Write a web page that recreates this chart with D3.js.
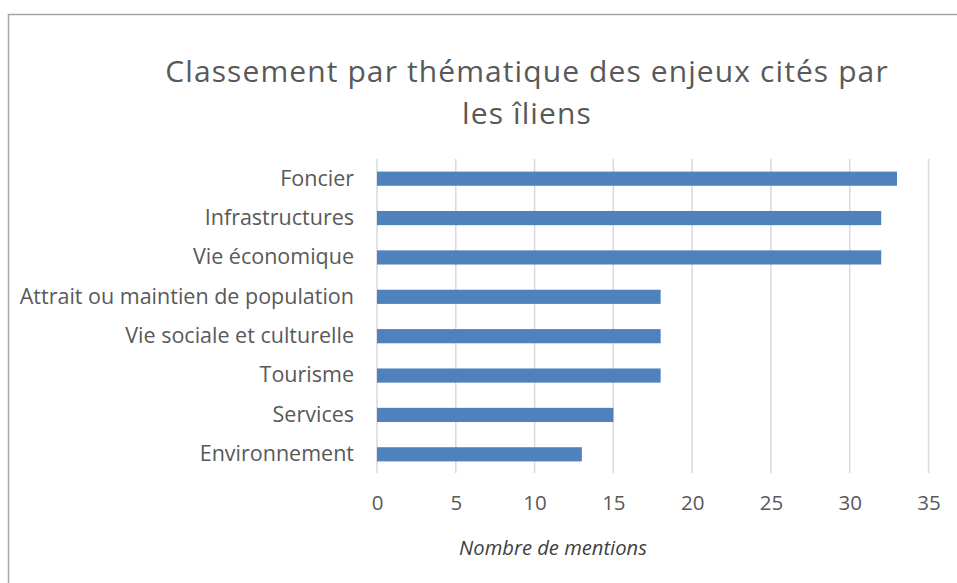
<!DOCTYPE html>
<html>
<head>
<meta charset="utf-8">
<script src="https://cdn.jsdelivr.net/npm/d3@7"></script>
<style>
  body { margin: 0; background: #fff; }
  text { font-family: "Open Sans", sans-serif; fill: #595959; }
</style>
</head>
<body>
<div id="chart-area"></div>
<script>
const categories = ["Foncier", "Infrastructures", "Vie économique", "Attrait ou maintien de population",
    "Vie sociale et culturelle", "Tourisme", "Services", "Environnement"];
const values = [33, 32, 32, 18, 18, 18, 15, 13];
const ticks = [0, 5, 10, 15, 20, 25, 30, 35];
const titleLines = ["Classement par thématique des enjeux cités par", "les îliens"];
const axisTitle = "Nombre de mentions";

const width = 957, height = 583;
const margin = ({top: 159, right: 29, bottom: 111, left: 377});

const svg = d3.select("#chart-area").append("svg")
    .attr("width", width)
    .attr("height", height);

// chart frame
svg.append("rect")
    .attr("x", 8.5).attr("y", 14.5)
    .attr("width", width + 20).attr("height", height + 20)
    .attr("fill", "none")
    .attr("stroke", "#a6a6a6")
    .attr("stroke-width", 1.5);

const x = d3.scaleLinear()
    .domain([0, 35])
    .range([margin.left, width - margin.right + 0.5]);

const y = d3.scaleBand()
    .domain(categories)
    .range([margin.top, height - margin.bottom + 2])
    .paddingInner(0.64)
    .paddingOuter(0.32);

// grid
svg.append("g")
    .selectAll("line")
    .data(ticks)
    .join("line")
        .attr("x1", d => x(d)).attr("x2", d => x(d))
        .attr("y1", margin.top).attr("y2", height - margin.bottom + 1)
        .attr("stroke", "#d9d9d9")
        .attr("stroke-width", 1.5);

// bars
svg.append("g")
    .selectAll("rect")
    .data(values)
    .join("rect")
        .attr("x", x(0))
        .attr("y", (d, i) => y(categories[i]))
        .attr("width", d => x(d) - x(0))
        .attr("height", y.bandwidth())
        .attr("fill", "#4f81bd");

// y axis labels
const yAxis = g => g
    .attr("transform", `translate(${margin.left - 23},0)`)
    .call(d3.axisLeft(y).tickSize(0).tickPadding(0))
    .call(g => g.select(".domain").remove())
    .call(g => g.selectAll("text")
        .attr("font-family", "'Open Sans', sans-serif")
        .attr("font-size", 21.5)
        .attr("fill", "#595959"));
svg.append("g").call(yAxis);

// x axis labels
const xAxis = g => g
    .attr("transform", `translate(0,${height - margin.bottom})`)
    .call(d3.axisBottom(x).tickValues(ticks).tickSize(0).tickPadding(23))
    .call(g => g.select(".domain").remove())
    .call(g => g.selectAll("text")
        .attr("font-family", "'Open Sans', sans-serif")
        .attr("font-size", 20.5)
        .attr("fill", "#595959"));
svg.append("g").call(xAxis);

// title, two lines
svg.append("g")
    .selectAll("text")
    .data(titleLines)
    .join("text")
        .attr("x", 527)
        .attr("y", (d, i) => 82 + i * 42)
        .attr("text-anchor", "middle")
        .attr("font-size", 30)
        .attr("letter-spacing", 1.1)
        .text(d => d);

// axis title
svg.append("text")
    .attr("x", 553)
    .attr("y", 555)
    .attr("text-anchor", "middle")
    .attr("font-size", 20.2)
    .attr("font-style", "italic")
    .style("fill", "#404040")
    .text(axisTitle);
</script>
</body>
</html>
